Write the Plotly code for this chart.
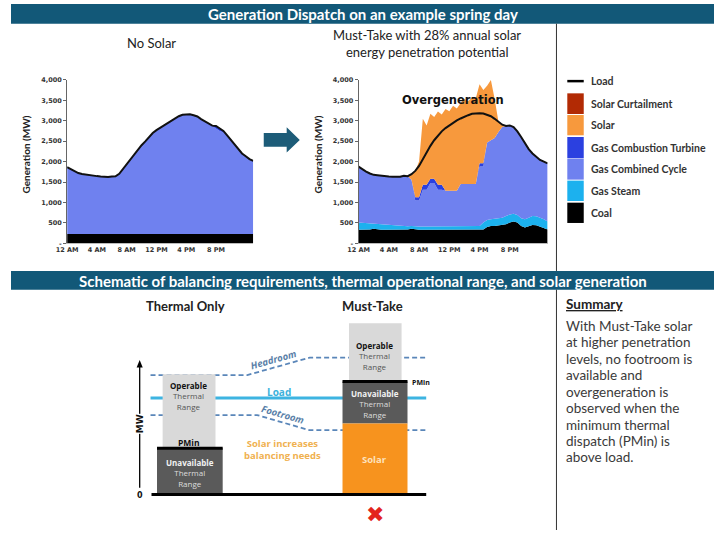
import plotly.graph_objects as go

# ---------------- data ----------------
HOURS = [i * 0.5 for i in range(51)]          # half-hour slots, 0 = 12 AM
TICK_HOURS = [0, 4, 8, 12, 16, 20]
TICK_LABELS = ["12 AM", "4 AM", "8 AM", "12 PM", "4 PM", "8 PM"]
Y_TICKS = [0, 500, 1000, 1500, 2000, 2500, 3000, 3500, 4000]
Y_TICK_LABELS = ["-", "500", "1,000", "1,500", "2,000", "2,500", "3,000", "3,500", "4,000"]

# No Solar case (MW)
NS_LOAD = [1863, 1815, 1765, 1720, 1695, 1678, 1670, 1660, 1645, 1635, 1628, 1622, 1635, 1640,
           1700, 1820, 1935, 2050, 2160, 2285, 2400, 2495, 2600, 2700, 2770, 2830, 2885, 2950,
           3010, 3060, 3110, 3145, 3160, 3157, 3135, 3105, 3040, 2980, 2920, 2880, 2870, 2820,
           2750, 2640, 2530, 2400, 2300, 2200, 2130, 2060, 2017]
NS_COAL = [230, 230, 230, 230, 230, 230, 230, 230, 230, 230, 230, 230, 230, 230, 230, 230, 230,
           230, 230, 230, 230, 230, 230, 230, 230, 230, 230, 230, 230, 230, 230, 230, 230, 230,
           230, 230, 230, 230, 230, 230, 230, 230, 230, 230, 230, 230, 230, 230, 230, 230, 230]
NS_CT = [0, 0, 0, 0, 0, 0, 0, 0, 0, 0, 0, 0, 0, 0, 0, 0, 0, 0, 0, 0, 0, 0, 0, 0, 0, 0, 0, 0, 0, 0,
         0, 0, 0, 0, 0, 0, 0, 0, 0, 0, 50, 70, 40, 20, 0, 0, 0, 0, 0, 0, 0]

# Must-Take case (MW); *_TOP values are cumulative stack tops
MT_LOAD = [1878, 1814, 1757, 1709, 1676, 1668, 1652, 1652, 1636, 1628, 1620, 1628, 1652, 1644,
           1693, 1773, 1894, 2063, 2225, 2386, 2523, 2644, 2740, 2821, 2885, 2950, 3006, 3055,
           3103, 3135, 3168, 3184, 3184, 3176, 3151, 3111, 3047, 2974, 2902, 2870, 2885, 2845,
           2740, 2603, 2442, 2305, 2200, 2120, 2039, 1999, 1958]
MT_COAL = [330, 330, 335, 340, 355, 340, 335, 330, 330, 330, 325, 325, 330, 340, 360, 340, 330,
           330, 330, 330, 330, 330, 330, 330, 330, 330, 330, 330, 330, 330, 330, 330, 330, 339,
           403, 427, 427, 443, 451, 467, 508, 532, 508, 427, 387, 427, 451, 443, 403, 371, 339]
MT_STEAM_TOP = [508, 500, 492, 492, 484, 476, 467, 459, 451, 443, 443, 435, 427, 419, 427, 411,
                411, 411, 411, 411, 411, 411, 411, 411, 411, 411, 411, 411, 411, 411, 411, 411,
                427, 508, 572, 588, 605, 629, 629, 669, 709, 725, 693, 613, 588, 629, 669, 661,
                629, 588, 532]
MT_CC_TOP = [1878, 1814, 1757, 1709, 1676, 1668, 1652, 1652, 1636, 1628, 1620, 1628, 1652, 1644,
             1556, 1048, 1048, 1314, 1314, 1475, 1475, 1314, 1314, 1290, 1290, 1290, 1290, 1451,
             1451, 1451, 1451, 1451, 1878, 1878, 2466, 2523, 2579, 2724, 2845, 2870, 2885, 2845,
             2740, 2603, 2442, 2305, 2200, 2120, 2039, 1999, 1958]
MT_CT = [0, 0, 0, 0, 0, 0, 0, 0, 0, 0, 0, 0, 0, 0, 0, 80, 80, 121, 121, 105, 105, 121, 121, 0, 0,
         0, 0, 0, 0, 0, 0, 0, 81, 81, 0, 0, 0, 0, 0, 0, 0, 0, 0, 0, 0, 0, 0, 0, 0, 0, 0]
MT_TOTAL = [1878, 1814, 1757, 1709, 1676, 1668, 1652, 1652, 1636, 1628, 1620, 1628, 1652, 1644,
            1693, 1773, 2000, 3047, 2885, 3168, 3090, 3224, 3150, 3288, 3230, 3369, 3300, 3434,
            3530, 3480, 3570, 3550, 3893, 3750, 3853, 3998, 3530, 2974, 2902, 2870, 2885, 2845,
            2740, 2603, 2442, 2305, 2200, 2120, 2039, 1999, 1958]

LEGEND_NAMES = ["Solar Curtailment", "Solar", "Gas Combustion Turbine",
                "Gas Combined Cycle", "Gas Steam", "Coal"]

SUMMARY_LINES = ["With Must-Take solar", "at higher penetration", "levels, no footroom is",
                 "available and", "overgeneration is", "observed when the",
                 "minimum thermal", "dispatch (PMin) is", "above load."]

# ---------------- styles ----------------
C_CURT = "#b22a04"
C_SOLAR = "#f7993d"
C_CT = "#2b40e0"
C_CC = "#6f81ef"
C_STEAM = "#1cb1ee"
C_COAL = "#000000"
C_HEAD = "#125878"
LEGEND_COLORS = [C_CURT, C_SOLAR, C_CT, C_CC, C_STEAM, C_COAL]

MAIN = "Lato, 'Open Sans', sans-serif"
SCHEM = "'Open Sans', 'DejaVu Sans', sans-serif"
TICKF = "'DejaVu Sans', sans-serif"

W, H = 714, 534


def X(px):
    return px / W


def Y(py):
    return 1 - py / H


# derived stack components
ns_cc = [l - c - t for l, c, t in zip(NS_LOAD, NS_COAL, NS_CT)]
mt_steam = [s - c for s, c in zip(MT_STEAM_TOP, MT_COAL)]
mt_cc = [cc - s for cc, s in zip(MT_CC_TOP, MT_STEAM_TOP)]
mt_solar = [t - cc - ct for t, cc, ct in zip(MT_TOTAL, MT_CC_TOP, MT_CT)]

fig = go.Figure()


def area(x, y, color, group, xa, ya):
    fig.add_trace(go.Scatter(x=x, y=y, stackgroup=group, mode="lines",
                             line=dict(width=0, color=color), fillcolor=color,
                             xaxis=xa, yaxis=ya, hoverinfo="skip", showlegend=False))


area(HOURS, NS_COAL, C_COAL, "ns", "x", "y")
area(HOURS, ns_cc, C_CC, "ns", "x", "y")
area(HOURS, NS_CT, C_CT, "ns", "x", "y")
fig.add_trace(go.Scatter(x=HOURS, y=NS_LOAD, mode="lines", line=dict(color="#111", width=2),
                         xaxis="x", yaxis="y", hoverinfo="skip", showlegend=False))

area(HOURS, MT_COAL, C_COAL, "mt", "x2", "y2")
area(HOURS, mt_steam, C_STEAM, "mt", "x2", "y2")
area(HOURS, mt_cc, C_CC, "mt", "x2", "y2")
area(HOURS, MT_CT, C_CT, "mt", "x2", "y2")
area(HOURS, mt_solar, C_SOLAR, "mt", "x2", "y2")
fig.add_trace(go.Scatter(x=HOURS, y=MT_LOAD, mode="lines", line=dict(color="#111", width=2),
                         xaxis="x2", yaxis="y2", hoverinfo="skip", showlegend=False))

xa = dict(range=[0, 25], tickvals=TICK_HOURS, ticktext=["<b>%s</b>" % t for t in TICK_LABELS],
          tickfont=dict(family=TICKF, size=6.5, color="#333"), showline=True, linecolor="#bbb",
          ticks="", showgrid=False, zeroline=False, fixedrange=True)
ya = dict(range=[0, 4000], tickvals=Y_TICKS, ticktext=["<b>%s</b>" % t for t in Y_TICK_LABELS],
          tickfont=dict(family=TICKF, size=6.5, color="#333"), showline=True, linecolor="#666",
          ticks="outside", ticklen=3, tickcolor="#666", showgrid=False, zeroline=False,
          fixedrange=True)

fig.update_layout(
    width=W, height=H, margin=dict(l=0, r=0, t=0, b=0),
    paper_bgcolor="white", plot_bgcolor="white", showlegend=False,
    xaxis=dict(xa, domain=[X(57), X(246)], anchor="y"),
    yaxis=dict(ya, domain=[Y(243), Y(77)], anchor="x"),
    xaxis2=dict(xa, domain=[X(353), X(545)], anchor="y2"),
    yaxis2=dict(ya, domain=[Y(243), Y(77)], anchor="x2"),
)

shapes = []
ann = []


def rect(x0, y0, x1, y1, color):
    shapes.append(dict(type="rect", xref="paper", yref="paper", x0=X(x0), x1=X(x1),
                       y0=Y(y1), y1=Y(y0), fillcolor=color, line=dict(width=0)))


def seg(x0, y0, x1, y1, color, width, dash="solid"):
    shapes.append(dict(type="line", xref="paper", yref="paper", x0=X(x0), x1=X(x1),
                       y0=Y(y0), y1=Y(y1), line=dict(color=color, width=width, dash=dash)))


def poly(pts, color=None, line_color=None, width=0, dash="solid", close=True):
    p = "M " + " L ".join("%f,%f" % (X(a), Y(b)) for a, b in pts)
    if close:
        p += " Z"
    d = dict(type="path", xref="paper", yref="paper", path=p,
             line=dict(color=line_color or "rgba(0,0,0,0)", width=width, dash=dash))
    if color:
        d["fillcolor"] = color
    shapes.append(d)


def text(x, y, t, size, color="#222", family=MAIN, xanchor="center", angle=0, bg=None):
    a = dict(x=X(x), y=Y(y), xref="paper", yref="paper", text=t, showarrow=False,
             xanchor=xanchor, yanchor="middle", textangle=angle, borderpad=0,
             font=dict(family=family, size=size, color=color))
    if bg:
        a["bgcolor"] = bg
    ann.append(a)


# header bars and separators
rect(0, 0, W, 20, C_HEAD)
rect(0, 271, W, 290, C_HEAD)
seg(554, 20, 554, 271, "#333", 1)
seg(554, 290, 554, 534, "#333", 1)
text(357, 10.5, "<b>Generation Dispatch on an example spring day</b>", 15, "white")
text(357, 281, "<b>Schematic of balancing requirements, thermal operational range, and solar generation</b>",
     15, "white")

# chart headings
text(143, 40, "No Solar", 13)
text(423, 31, "Must-Take with 28% annual solar", 13)
text(423, 49, "energy penetration potential", 13)
text(15, 153, "<b>Generation (MW)</b>", 10, angle=-90)
text(311.5, 153, "<b>Generation (MW)</b>", 10, angle=-90)
text(449, 97, "<b>Overgeneration</b>", 11.5, "#111", TICKF)

# arrow between charts
poly([(256.7, 131), (280, 131), (280, 125), (293.3, 138), (280, 150.7), (280, 145), (256.7, 145)],
     color="#1d5c78")

# legend
seg(565, 78.3, 581.7, 78.3, "#000", 2.5)
text(588, 78, "<b>Load</b>", 10.5, "#333", xanchor="left")
sw_y = [(90.7, 111.7), (112.7, 133.3), (135, 156.7), (157.3, 178.3), (179.3, 200), (201.7, 222.3)]
for (y0, y1), c, name in zip(sw_y, LEGEND_COLORS, LEGEND_NAMES):
    rect(565, y0, 581.7, y1, c)
    text(588, (y0 + y1) / 2, "<b>%s</b>" % name, 10.5, "#333", xanchor="left")

# ---------------- schematic ----------------
text(177, 307, "<b>Thermal Only</b>", 13)
text(367, 307, "<b>Must-Take</b>", 13)

DASH_C = "#5a86b9"
# headroom / footroom (drawn under the bars)
poly([(141.7, 376.7), (240, 376.7), (303.3, 359), (421.7, 359)], line_color=DASH_C, width=1.8,
     dash="5px,3px", close=False)
poly([(141.7, 417.3), (250, 417.3), (303, 432.7), (421.7, 432.7)], line_color=DASH_C, width=1.8,
     dash="5px,3px", close=False)
seg(141.7, 400, 421.7, 400, "#3db4e1", 3)

# thermal only bar
rect(154, 376, 207.7, 451, "#d9d9d9")
rect(148.3, 451, 215, 498, "#5a5a5a")
seg(148.3, 451, 215, 451, "#000", 3)
# must-take bar
rect(343.3, 324, 396.7, 382.7, "#d9d9d9")
rect(336.7, 383.3, 402.7, 426, "#5a5a5a")
rect(336.7, 426, 402.7, 498, "#f7931e")
seg(336.7, 383.3, 402.7, 383.3, "#000", 3)
# baseline and MW axis
seg(142.7, 498, 421.7, 498, "#000", 3)
seg(130.7, 491, 130.7, 366, "#000", 1.3)
poly([(127.6, 369), (130.7, 361.5), (133.8, 369)], color="#000")

text(130.7, 426, "<b>MW</b>", 9, "#111", TICKF, angle=-90, bg="white")
text(130.7, 499, "<b>0</b>", 8, "#111", TICKF)

OPER = ("<b><span style='color:#111'>Operable</span></b><br>"
        "<span style='color:#555'>Thermal</span><br><span style='color:#555'>Range</span>")
UNAV = ("<b><span style='color:#f2f2f2'>Unavailable</span></b><br>"
        "<span style='color:#dddddd'>Thermal</span><br><span style='color:#dddddd'>Range</span>")

text(180.7, 398.2, OPER, 8, "#555", SCHEM)
text(180.7, 445, "<b>PMin</b>", 8.5, "#111", SCHEM)
text(181.7, 475.8, UNAV, 8, "#ddd", SCHEM)

text(267, 361, "<b><i>Headroom</i></b>", 9.5, "#5a7fa8", SCHEM, angle=-16)
text(271.7, 394.3, "<b>Load</b>", 10, "#3bb2dc", SCHEM)
text(276, 416.5, "<b><i>Footroom</i></b>", 9.5, "#5a7fa8", SCHEM, angle=16)
text(276, 452.2, "<b>Solar increases<br>balancing needs</b>", 9.5, "#f0b150", SCHEM)

text(369.3, 357.6, OPER, 8, "#555", SCHEM)
text(416, 384, "<b>PMin</b>", 7, "#111", SCHEM)
text(369.3, 406, UNAV, 8, "#ddd", SCHEM)
text(369.3, 462.7, "<b>Solar</b>", 9.5, "#fde2bd", SCHEM)
text(369.3, 518, "✖", 22, "#e3241b", TICKF)

# summary
text(563, 305, "<b><u>Summary</u></b>", 13.5, "#222", xanchor="left")
for i, line_txt in enumerate(SUMMARY_LINES):
    text(563, 326.7 + 16.7 * i, line_txt, 13.5, "#3a3a3a", xanchor="left")

fig.update_layout(shapes=shapes, annotations=ann)
fig.write_html("out.html", config={"displayModeBar": False},
               post_script="document.body.style.margin='0px';document.body.style.overflow='hidden';")
